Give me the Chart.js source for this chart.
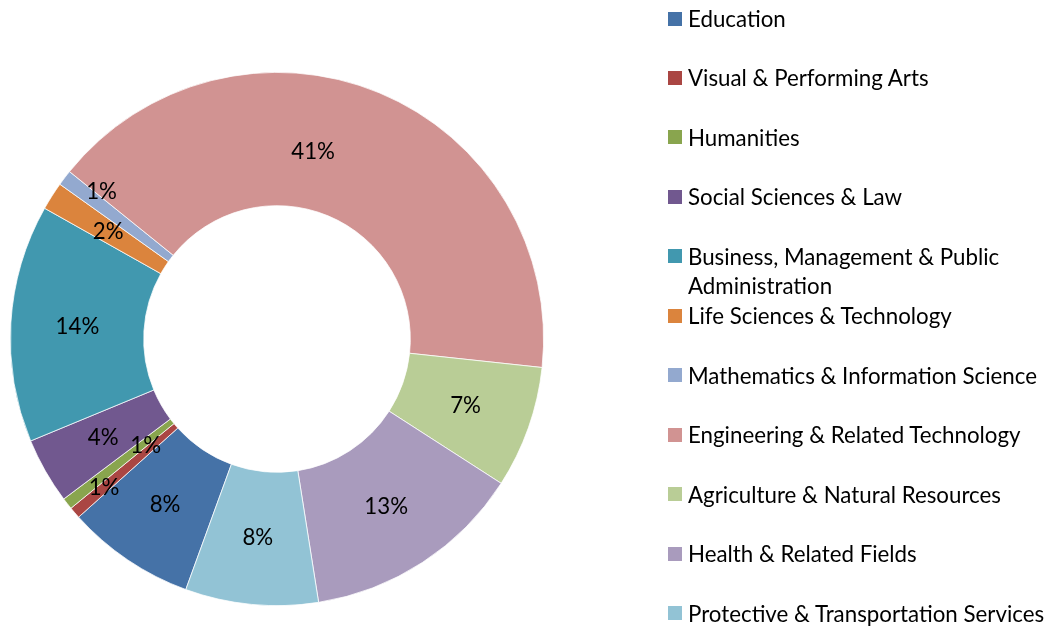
<!DOCTYPE html>
<html>
<head>
<meta charset="utf-8">
<script src="https://cdn.jsdelivr.net/npm/chart.js@4.4.1/dist/chart.umd.min.js"></script>
<style>
  html, body { margin: 0; padding: 0; background: #fff; }
  #wrap { position: relative; width: 1048px; height: 628px; overflow: hidden; }
  #c { position: absolute; left: 0; top: 0; }
  .li { position: absolute; left: 668px; width: 378px; color: #000; font-family: Lato, "Open Sans", sans-serif; }
  .sw { position: absolute; left: 0; width: 14px; height: 14px; }
  .tx { position: absolute; left: 20px; width: 358px; }
</style>
</head>
<body>
<div id="wrap">
  <canvas id="c" width="1048" height="628"></canvas>
  <div id="legend"></div>
</div>
<script>
// ---- data ----
const categories = [
  "Education",
  "Visual & Performing Arts",
  "Humanities",
  "Social Sciences & Law",
  "Business, Management & Public Administration",
  "Life Sciences & Technology",
  "Mathematics & Information Science",
  "Engineering & Related Technology",
  "Agriculture & Natural Resources",
  "Health & Related Fields",
  "Protective & Transportation Services"
];
const shares = [7.8, 0.7, 0.7, 4.0, 14.4, 1.7, 0.95, 40.9, 7.4, 13.4, 8.05];

// ---- styles ----
const sliceColors = [
  "#4572A7", "#AA4643", "#89A54E", "#71588F", "#4198AF", "#DB843D",
  "#93A9CF", "#D19392", "#B9CD96", "#A99BBD", "#92C3D5"
];

// font size fitted to the reference's text width
const fontFamily = "Lato, 'Open Sans', sans-serif";
const mctx = document.createElement("canvas").getContext("2d");
mctx.font = "100px " + fontFamily;
const fontSize = 349 / mctx.measureText("Mathematics & Information Science").width * 100;

// label placement tweaks (index -> radial fraction / angle shift in degrees)
const labelTweaks = {
  1: { radius: 0.71, dAngle: 0 },
  2: { radius: 0.27, dAngle: -1 },
  6: { radius: 0.72, dAngle: 2.9 },
  7: { radius: 0.43, dAngle: -11.6 }
};

const sliceLabels = {
  id: "sliceLabels",
  afterDatasetsDraw(chart, args, opts) {
    const ctx = chart.ctx;
    const meta = chart.getDatasetMeta(0);
    const data = chart.data.datasets[0].data;
    const total = data.reduce((a, b) => a + b, 0);
    ctx.save();
    ctx.font = fontSize.toFixed(2) + "px " + fontFamily;
    ctx.fillStyle = "#000";
    ctx.textAlign = "center";
    ctx.textBaseline = "middle";
    meta.data.forEach((arc, i) => {
      const p = arc.getProps(["x", "y", "startAngle", "endAngle", "innerRadius", "outerRadius"], true);
      const t = opts.tweaks[i] || {};
      const a = (p.startAngle + p.endAngle) / 2 + (t.dAngle || 0) * Math.PI / 180;
      const f = t.radius !== undefined ? t.radius : 0.5;
      const r = p.innerRadius + (p.outerRadius - p.innerRadius) * f;
      ctx.fillText(Math.round(data[i] / total * 100) + "%", p.x + r * Math.cos(a), p.y + r * Math.sin(a));
    });
    ctx.restore();
  }
};

new Chart(document.getElementById("c"), {
  type: "doughnut",
  data: {
    labels: categories,
    datasets: [{
      data: shares,
      backgroundColor: sliceColors,
      borderColor: "#ffffff",
      borderWidth: 0.75
    }]
  },
  options: {
    responsive: false,
    animation: false,
    events: [],
    rotation: 200,
    cutout: "50%",
    layout: { padding: { left: 10, top: 72, right: 504, bottom: 22 } },
    plugins: {
      legend: { display: false },
      tooltip: { enabled: false },
      sliceLabels: { tweaks: labelTweaks }
    }
  },
  plugins: [sliceLabels]
});

// ---- HTML legend ----
const legend = document.getElementById("legend");
const firstRowY = 18.5, rowStep = 59.45, lineH = 29;
categories.forEach((name, i) => {
  const yc = firstRowY + rowStep * i;
  const item = document.createElement("div");
  item.className = "li";
  item.style.top = (yc - lineH / 2) + "px";
  item.style.fontSize = fontSize.toFixed(2) + "px";
  item.style.lineHeight = lineH + "px";
  const sw = document.createElement("div");
  sw.className = "sw";
  sw.style.background = sliceColors[i];
  sw.style.top = (lineH / 2 - 7) + "px";
  const tx = document.createElement("div");
  tx.className = "tx";
  tx.textContent = name;
  item.appendChild(sw);
  item.appendChild(tx);
  legend.appendChild(item);
});
</script>
</body>
</html>
